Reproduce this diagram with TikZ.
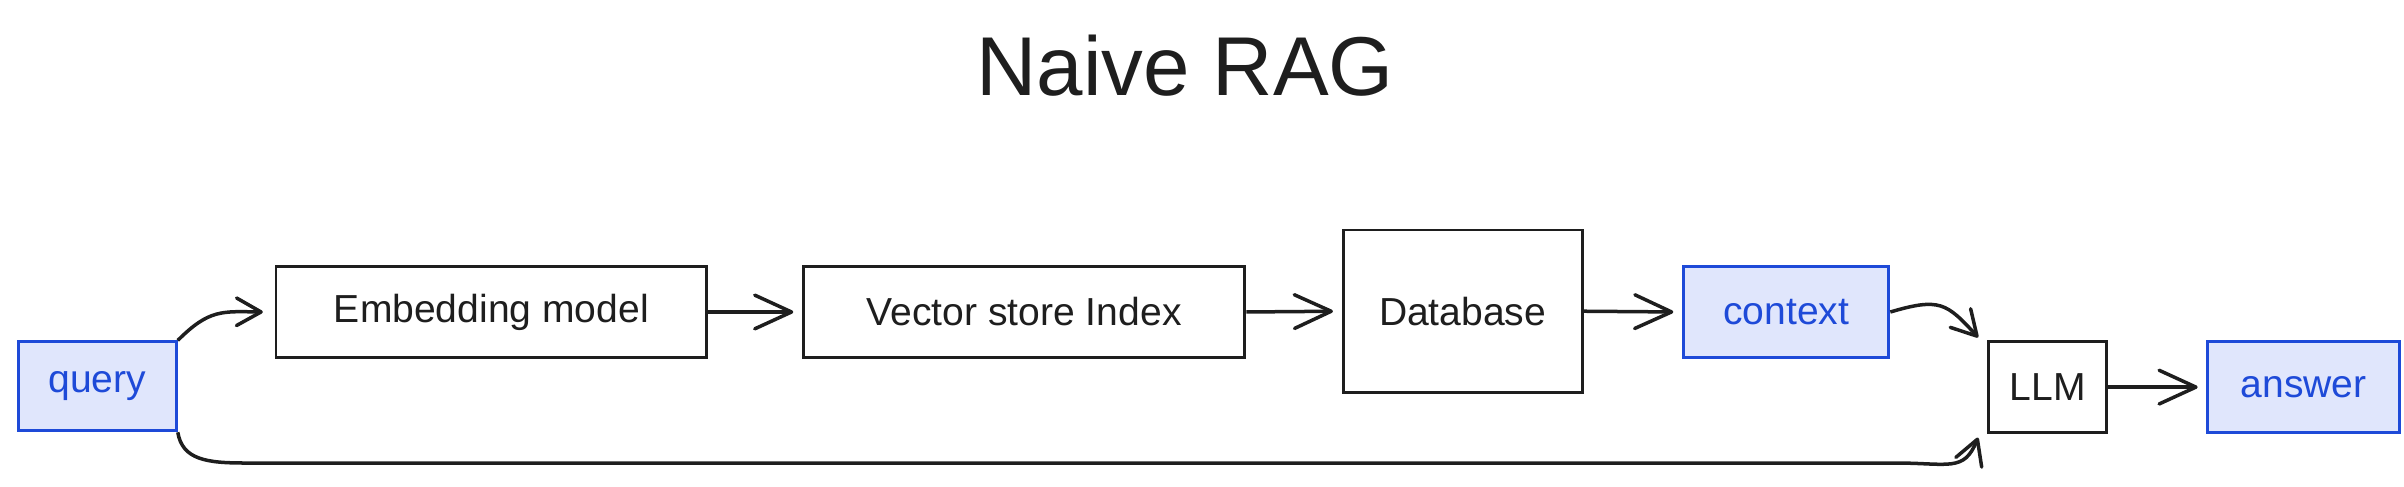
\documentclass[tikz,border=0pt]{standalone}
\usepackage{fontspec}
\setmainfont{Liberation Sans}
\usepackage{tikz}
\usetikzlibrary{arrows.meta, bending}
\definecolor{Ink}{HTML}{1E1E1E}
\definecolor{RoyalInk}{HTML}{1E4AD8}
\definecolor{PaleBlue}{HTML}{E0E6FC}

\begin{document}
\begin{tikzpicture}[x=0.02cm, y=0.02cm,
		box/.style={draw=Ink, line width=1.1pt, fill=white, text=Ink, minimum height=1.18cm, inner sep=0pt, font=\fontsize{14.5}{17}\selectfont},
		datum/.style={box, draw=RoyalInk, fill=PaleBlue, text=RoyalInk},
		flow/.style={-{Straight Barb[length=0.48cm, width=0.44cm, line width=1.3pt, round]}, Ink, line width=1.3pt, shorten >=1.5pt},
		bentflow/.style={flow, -{Straight Barb[length=0.32cm, width=0.36cm, line width=1.3pt, round, flex]}}]
		\useasboundingbox (0,0) rectangle (1568,317);
		% The title
		\node [Ink, font=\fontsize{31}{36}\selectfont] (title) at (773,274) {Naive RAG};
		% The query and the retrieval chain
		\node [datum, minimum width=2.06cm, minimum height=1.16cm] (query) at (63.5,65) {query};
		\node [box, minimum width=5.62cm] (emb) at (320.5,113.5) {Embedding model};
		\node [box, minimum width=5.76cm] (vec) at (668,113.5) {Vector store Index};
		\node [box, minimum width=3.12cm, minimum height=2.12cm] (db) at (954,114) {Database};
		\node [datum, minimum width=2.68cm] (ctx) at (1165,113.5) {context};
		% The generation step
		\node [box, minimum width=1.54cm] (llm) at (1335.5,64.5) {LLM};
		\node [datum, minimum width=2.5cm] (ans) at (1502.5,64.5) {answer};
		% Arrows along the retrieval chain
		\draw [bentflow] (query.north east) .. controls +(22,22) and +(-28,0) .. ([xshift=-0.1cm] emb.west);
		\draw [flow] (emb.east) -- ([xshift=-0.06cm] vec.west);
		\draw [flow] (vec.east) -- ([xshift=-0.06cm] db.west);
		\draw [flow] (db.east) -- ([xshift=-0.06cm] ctx.west);
		\draw [bentflow] (ctx.east) .. controls +(34,10) and +(-22,24) .. ([xshift=-0.08cm] llm.north west);
		% The query also goes straight to the LLM
		\coordinate (under) at (160,15);
		\coordinate (underend) at (1236,15);
		\draw [bentflow] (query.south east) .. controls +(3,-18) and +(-25,0) .. (under) -- (underend) .. controls +(38,0) and +(-9,-26) .. ([xshift=-0.1cm] llm.south west);
		\draw [flow] (llm.east) -- ([xshift=-0.06cm] ans.west);
\end{tikzpicture}
\end{document}
